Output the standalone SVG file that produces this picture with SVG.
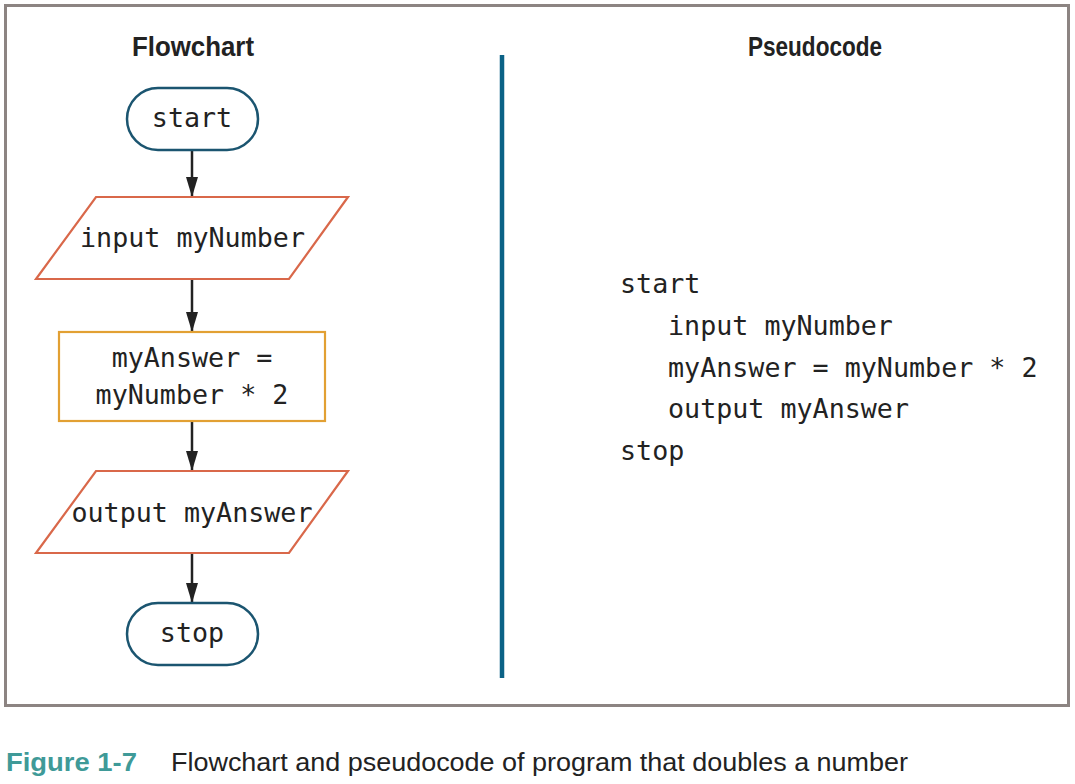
<svg xmlns="http://www.w3.org/2000/svg" width="1075" height="784" viewBox="0 0 1075 784">
<style>
.code{font-family:"DejaVu Sans Mono","Liberation Mono",monospace;font-size:26.7px;fill:#222}
.hd{font-family:"Liberation Sans",Arial,sans-serif;font-weight:bold;font-size:28px;fill:#222}
.term{fill:#fff;stroke:#1b5570;stroke-width:2.5}
.io{fill:#fff;stroke:#d9684a;stroke-width:2.2}
.proc{fill:#fff;stroke:#e2a033;stroke-width:2.2}
.conn{stroke:#222;stroke-width:2.5;fill:none}
</style>
<defs>
<marker id="arr" viewBox="0 0 20 12" refX="20" refY="6" markerWidth="20" markerHeight="12" markerUnits="userSpaceOnUse" orient="auto">
<path d="M0,0 L20,6 L0,12 Z" fill="#222"/>
</marker>
</defs>
<rect x="0" y="0" width="1075" height="784" fill="#fff"/>
<rect x="5.5" y="5.5" width="1063" height="700" fill="#fff" stroke="#8c8482" stroke-width="3"/>
<line x1="502" y1="55" x2="502" y2="678" stroke="#0b6286" stroke-width="4.5"/>
<text class="hd" x="193" y="56" text-anchor="middle" textLength="122" lengthAdjust="spacingAndGlyphs">Flowchart</text>
<text class="hd" x="815" y="56" text-anchor="middle" textLength="134" lengthAdjust="spacingAndGlyphs">Pseudocode</text>
<g id="connectors">
<line class="conn" x1="192" y1="151" x2="192" y2="197" marker-end="url(#arr)"/>
<line class="conn" x1="192" y1="280" x2="192" y2="332" marker-end="url(#arr)"/>
<line class="conn" x1="192" y1="422" x2="192" y2="471" marker-end="url(#arr)"/>
<line class="conn" x1="192" y1="554" x2="192" y2="603" marker-end="url(#arr)"/>
</g>
<g id="start">
<rect class="term" x="127" y="88" width="131" height="62" rx="31"/>
<text class="code" x="192" y="127" text-anchor="middle">start</text>
</g>
<g id="input">
<polygon class="io" points="96,197 348,197 289,279 36,279"/>
<text class="code" x="192.5" y="247" text-anchor="middle">input myNumber</text>
</g>
<g id="process">
<rect class="proc" x="59" y="332" width="266" height="89"/>
<text class="code" x="192" y="367" text-anchor="middle">myAnswer =</text>
<text class="code" x="192" y="404" text-anchor="middle">myNumber * 2</text>
</g>
<g id="output">
<polygon class="io" points="96,471 348,471 289,553 36,553"/>
<text class="code" x="192" y="522" text-anchor="middle">output myAnswer</text>
</g>
<g id="stop">
<rect class="term" x="127" y="603" width="131" height="62" rx="31"/>
<text class="code" x="192" y="642" text-anchor="middle">stop</text>
</g>
<g id="pseudocode">
<text class="code" x="620" y="293">start</text>
<text class="code" x="668" y="335">input myNumber</text>
<text class="code" x="668" y="377">myAnswer = myNumber * 2</text>
<text class="code" x="668" y="418">output myAnswer</text>
<text class="code" x="620" y="460">stop</text>
</g>
<g id="caption">
<text x="6" y="771" font-family="Liberation Sans,Arial,sans-serif" font-weight="bold" font-size="25" fill="#3f9a98" textLength="131" lengthAdjust="spacingAndGlyphs">Figure 1-7</text>
<text x="171" y="771" font-family="Liberation Sans,Arial,sans-serif" font-size="25" fill="#222" textLength="737" lengthAdjust="spacingAndGlyphs">Flowchart and pseudocode of program that doubles a number</text>
</g>
</svg>
